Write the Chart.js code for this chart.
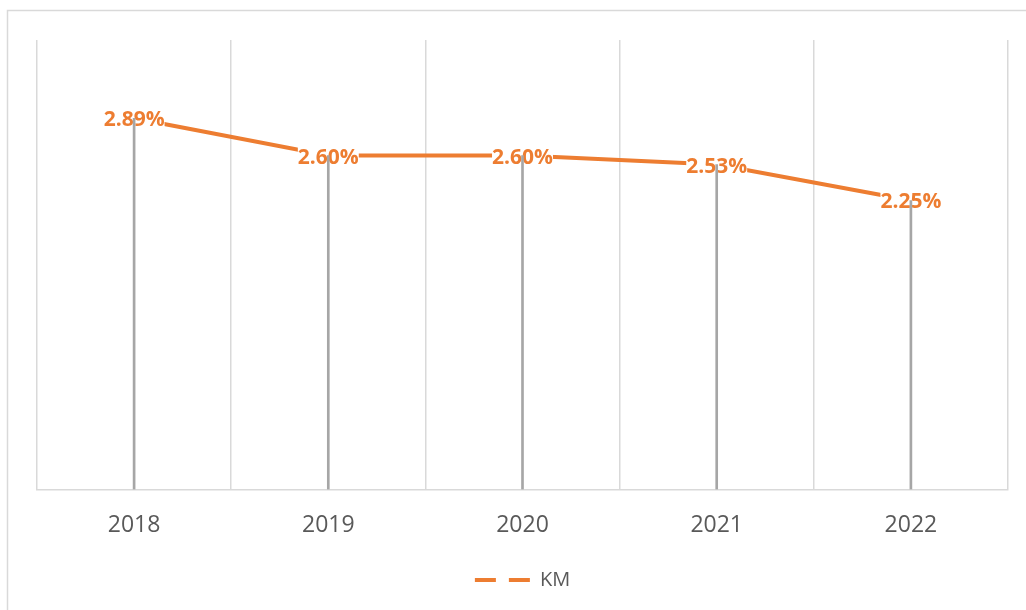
<!DOCTYPE html>
<html><head><meta charset="utf-8">
<script src="https://cdn.jsdelivr.net/npm/chart.js@4/dist/chart.umd.min.js"></script>
<style>html,body{margin:0;padding:0;background:#fff}canvas{display:block}</style>
</head><body>
<canvas id="c" width="1026" height="610"></canvas>
<script>
const categories = ['2018', '2019', '2020', '2021', '2022'];
const kmValues = [2.89, 2.60, 2.60, 2.53, 2.25];
const kmLabels = ['2.89%', '2.60%', '2.60%', '2.53%', '2.25%'];
const seriesName = 'KM';

const ORANGE = '#ED7D31';

const frame = {
  id: 'frame',
  beforeDraw(chart) {
    const ctx = chart.ctx;
    ctx.save();
    ctx.fillStyle = '#fff';
    ctx.fillRect(0, 0, chart.width, chart.height);
    ctx.strokeStyle = '#d9d9d9';
    ctx.lineWidth = 1.5;
    ctx.strokeRect(7.5, 10.5, 1040, 700);
    ctx.restore();
  }
};

// value labels with a white box, drawn right after the line (so they mask it)
const dataLabels = {
  id: 'dataLabels',
  afterDatasetDraw(chart, args) {
    if (args.index !== 0) return;
    const meta = chart.getDatasetMeta(1);
    const ctx = chart.ctx;
    ctx.save();
    ctx.font = 'bold 21px "Open Sans"';
    ctx.textAlign = 'center';
    ctx.textBaseline = 'middle';
    meta.data.forEach((el, i) => {
      const w = ctx.measureText(kmLabels[i]).width;
      const cy = el.y + 2;
      ctx.fillStyle = '#fff';
      ctx.fillRect(el.x - w / 2, cy - 11, w, 22);
      ctx.fillStyle = ORANGE;
      ctx.fillText(kmLabels[i], el.x, cy);
    });
    ctx.restore();
  }
};

new Chart(document.getElementById('c'), {
  data: {
    labels: categories,
    datasets: [
      {
        type: 'line',
        label: seriesName,
        data: kmValues,
        borderColor: ORANGE,
        backgroundColor: ORANGE,
        borderWidth: 4,
        pointRadius: 0,
        tension: 0,
        order: 2
      },
      {
        type: 'bar',
        label: 'drop',
        data: kmValues,
        backgroundColor: '#a6a6a6',
        barThickness: 2,
        order: 1
      }
    ]
  },
  options: {
    responsive: false,
    animation: false,
    layout: { padding: { left: 37, right: 18, top: 40, bottom: 10 } },
    plugins: {
      tooltip: { enabled: false },
      legend: {
        position: 'bottom',
        labels: {
          usePointStyle: true,
          pointStyleWidth: 55,
          padding: 9,
          color: '#595959',
          font: { family: 'Open Sans', size: 20 },
          generateLabels() {
            return [{
              text: seriesName,
              fillStyle: ORANGE,
              strokeStyle: ORANGE,
              lineWidth: 4,
              lineDash: [21, 13],
              lineCap: 'butt',
              pointStyle: 'line',
              fontColor: '#595959',
              datasetIndex: 0,
              hidden: false
            }];
          }
        }
      }
    },
    scales: {
      x: {
        type: 'category',
        offset: true,
        grid: { offset: true, color: '#d9d9d9', lineWidth: 1.5, drawTicks: false },
        border: { color: '#d9d9d9', width: 1.5 },
        ticks: { color: '#595959', font: { family: 'Open Sans', size: 23 }, padding: 22 }
      },
      y: { display: false, min: 0, max: 3.5 }
    }
  },
  plugins: [frame, dataLabels]
});
</script>
</body></html>
